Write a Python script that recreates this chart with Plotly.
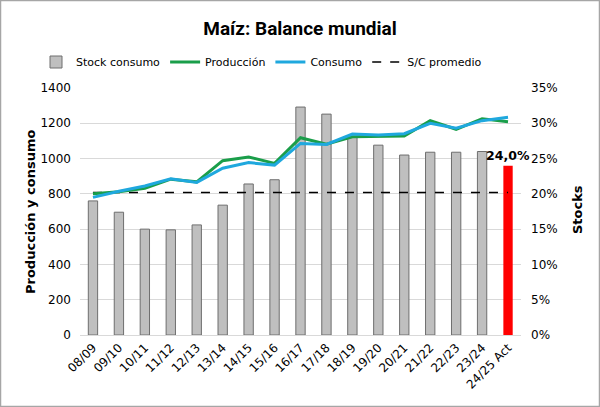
import plotly.graph_objects as go

campanas = ["08/09", "09/10", "10/11", "11/12", "12/13", "13/14", "14/15", "15/16",
            "16/17", "17/18", "18/19", "19/20", "20/21", "21/22", "22/23", "23/24", "24/25 Act"]
stock_consumo = [19.0, 17.4, 15.0, 14.9, 15.6, 18.4, 21.4, 22.0, 32.3, 31.3, 28.1, 26.9,
                 25.5, 25.9, 25.9, 26.0, None]
stock_actual = [None] * 16 + [24.0]
produccion = [801, 812, 831, 883, 868, 988, 1009, 973, 1118, 1082, 1124, 1128, 1128,
              1215, 1166, 1226, 1209]
consumo = [780, 815, 845, 885, 865, 945, 977, 963, 1086, 1080, 1139, 1133, 1141,
           1200, 1172, 1215, 1234]
sc_promedio = [20.2] * 17
etiqueta_actual = [""] * 16 + ["24,0%"]

FONT = "DejaVu Sans, Verdana, sans-serif"

fig = go.Figure()
fig.add_trace(go.Bar(x=campanas, y=stock_consumo, name="Stock consumo", yaxis="y",
                     marker=dict(color="#bfbfbf", line=dict(color="#6e6e6e", width=1)),
                     width=0.36))
fig.add_trace(go.Bar(x=campanas, y=stock_actual, name="Stock actual", yaxis="y",
                     showlegend=False, marker=dict(color="#ff0000", line=dict(width=0)),
                     width=0.36, text=etiqueta_actual, textposition="outside",
                     constraintext="none",
                     textfont=dict(family=FONT, size=12.5, color="#000", weight="bold"),
                     cliponaxis=False))
fig.add_trace(go.Scatter(x=campanas, y=sc_promedio, name="S/C promedio", yaxis="y",
                         mode="lines", line=dict(color="#000", width=1.5, dash="dash"),
                         showlegend=False))
fig.add_trace(go.Scatter(x=campanas, y=produccion, name="Producción", yaxis="y2",
                         mode="lines", line=dict(color="#1a9e4a", width=3)))
fig.add_trace(go.Scatter(x=campanas, y=consumo, name="Consumo", yaxis="y2",
                         mode="lines", line=dict(color="#1fa8de", width=3)))
fig.add_trace(go.Scatter(x=[None], y=[None], name="S/C promedio", mode="lines",
                         line=dict(color="#000", width=1.5, dash="dash")))

W, H = 600, 407
L, R, T, B = 80, 79, 88, 72
pw, ph = W - L - R, H - T - B

fig.update_layout(
    width=W, height=H,
    margin=dict(l=L, r=R, t=T, b=B, autoexpand=False),
    paper_bgcolor="white", plot_bgcolor="white",
    font=dict(family=FONT, size=12, color="#000"),
    barmode="overlay",
    title=dict(text="<b>Maíz: Balance mundial</b>", x=0.5, xanchor="center",
               y=1 - 28 / H, yanchor="middle",
               font=dict(family="Roboto, sans-serif", size=19, color="#000")),
    legend=dict(orientation="h", x=(36 - L) / pw, xanchor="left",
                y=(T + ph - 62) / ph, yanchor="middle",
                font=dict(size=11), traceorder="normal",
                itemwidth=30, tracegroupgap=0, bgcolor="rgba(0,0,0,0)"),
    xaxis=dict(type="category", tickangle=-45, showgrid=False, showline=True,
               linecolor="#d9d9d9", ticks="", tickfont=dict(size=12)),
    yaxis=dict(range=[0, 35], side="right", tickvals=[0, 5, 10, 15, 20, 25, 30, 35],
               ticktext=[f"{v}%" for v in [0, 5, 10, 15, 20, 25, 30, 35]],
               showgrid=False, zeroline=False, ticks="", tickfont=dict(size=12),
               ticklabelstandoff=9),
    yaxis2=dict(range=[0, 1400], side="left", overlaying="y", dtick=200,
                showgrid=True, gridcolor="#d9d9d9", zeroline=False, ticks="",
                tickfont=dict(size=12), ticklabelstandoff=8),
    showlegend=True,
)

fig.add_annotation(text="<b>Producción y consumo</b>", xref="paper", yref="paper",
                   x=(30 - L) / pw, y=(T + ph - 212) / ph, textangle=-90,
                   xanchor="center", yanchor="middle",
                   showarrow=False, font=dict(size=13))
fig.add_annotation(text="<b>Stocks</b>", xref="paper", yref="paper",
                   x=(577 - L) / pw, y=(T + ph - 210) / ph, textangle=-90,
                   xanchor="center", yanchor="middle",
                   showarrow=False, font=dict(size=13))
fig.add_shape(type="rect", xref="paper", yref="paper",
              x0=(0.5 - L) / pw, x1=(W - 0.5 - L) / pw,
              y0=(T + ph - (H - 0.5)) / ph, y1=(T + ph - 0.5) / ph,
              line=dict(color="#a6a6a6", width=1.5), layer="above")

fig.write_html("out.html", config={"displayModeBar": False},
               post_script="document.body.style.margin='0px';")
